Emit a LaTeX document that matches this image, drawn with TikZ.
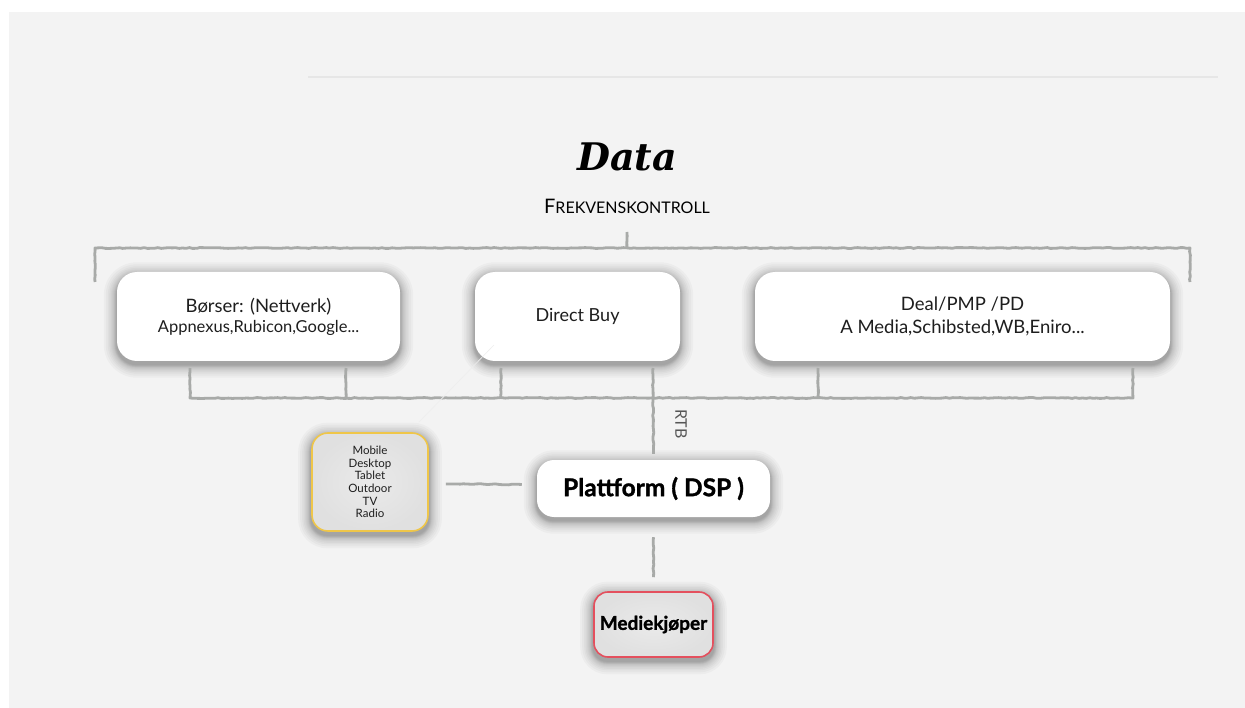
\documentclass[tikz,border=0pt]{standalone}
\usepackage{fontspec}
\setmainfont{Lato}
\newfontfamily\titlefont{DejaVu Serif}
\newfontfamily\heavyfont{Lato}[BoldFeatures={FakeBold=1.3}]
\usetikzlibrary{decorations.pathmorphing,calc}

\definecolor{bgcol}{HTML}{F3F3F3}
\definecolor{rulecol}{HTML}{E6E6E6}
\definecolor{wirecol}{HTML}{A8AAA8}
\definecolor{devedge}{HTML}{EFC649}
\definecolor{buyedge}{HTML}{E4505E}
\definecolor{greyin}{HTML}{EAEAEA}
\definecolor{greyout}{HTML}{E0E0E0}
\definecolor{inkcol}{HTML}{1E1E1E}

\pgfdeclarelayer{canvas}
\pgfdeclarelayer{shade}
\pgfsetlayers{canvas,shade,main}

% soft shadow under a rounded node: stacked translucent outlines,
% packed more densely close to the edge so the fade-out is smooth
\newcommand{\castshadow}[2]{%
  \begin{pgfonlayer}{shade}
  \foreach \d in {0.5,1,1.5,2,2.5,3,4,5,6,7.5,9,11,13}{%
    \pgfmathsetmacro{\rr}{#2+\d}%
    \fill[black, opacity=0.028, rounded corners=\rr pt]
      ($(#1.north west)+(-\d,-\d+3.5)$) rectangle ($(#1.south east)+(\d,\d+3.5)$);
  }
  \end{pgfonlayer}}

\begin{document}
\begin{tikzpicture}[x=1pt,y=-1pt,
  box/.style={fill=white, rounded corners=20pt, inner sep=0pt, align=center,
      text=inkcol},
  greybox/.style={inner color=greyin, outer color=greyout,
      rounded corners=16pt, inner sep=0pt, align=center, text=inkcol,
      line width=1.6pt},
  wire/.style={draw=wirecol, line width=2.8pt, line join=round, decorate,
      decoration={random steps, segment length=3.5pt, amplitude=0.45pt}},
  faint/.style={draw=white!80!wirecol, line width=0.6pt}
]
\useasboundingbox (0,0) rectangle (1245,708);
\begin{pgfonlayer}{canvas}
\fill[white] (0,0) rectangle (1245,708);
\fill[bgcol] (9,12) rectangle (1245,708);
\draw[rulecol, line width=1.6pt] (308,77) -- (1218,77);
\end{pgfonlayer}

% heading
\node (title) at (627,157) {\titlefont\bfseries\itshape\fontsize{38}{38}\selectfont Data};
\node (freq) at (627,206) {\fontsize{20}{20}\selectfont F\fontsize{16}{16}\selectfont REKVENSKONTROLL};

% supply side
\node[box, minimum width=283pt, minimum height=89pt, font=\fontsize{18.5}{23}\selectfont] (bors) at (258.5,316.5)
  {\raisebox{-3pt}{\shortstack{Børser: (Nettverk)\\[2pt]\fontsize{16.5}{20}\selectfont Appnexus,Rubicon,Google...}}};
\node[box, minimum width=205pt, minimum height=89pt, font=\fontsize{18}{22}\selectfont] (direct) at (577.5,316.5)
  {Direct Buy};
\node[box, minimum width=415pt, minimum height=89pt, font=\fontsize{18.5}{23}\selectfont] (deal) at (962.5,316.5)
  {Deal/PMP /PD\\A Media,Schibsted,WB,Eniro...};

% demand side
\node[box, rounded corners=17pt, minimum width=233pt, minimum height=57pt, text=black] (plat) at (653.5,488.5)
  {\heavyfont\bfseries\fontsize{24.5}{26}\selectfont Plattform ( DSP )};
\node[greybox, draw=devedge, minimum width=116pt, minimum height=98pt, font=\fontsize{11.5}{12.7}\selectfont] (dev) at (370,482)
  {Mobile\\Desktop\\Tablet\\Outdoor\\TV\\Radio};
\node[greybox, draw=buyedge, rounded corners=14pt, minimum width=119pt, minimum height=65pt, text=black] (buyer) at (653.5,624.5)
  {\heavyfont\bfseries\fontsize{19}{22}\selectfont Mediekjøper};

\castshadow{bors}{20}
\castshadow{direct}{20}
\castshadow{deal}{20}
\castshadow{plat}{17}
\castshadow{dev}{16}
\castshadow{buyer}{14}

% upper bracket from the data layer
\coordinate (topl) at (95,282);
\coordinate (topr) at (1190,282);
\coordinate (topm) at (627,232);
\draw[wire] (topl) -- (95,248) -- (1190,248) -- (topr);
\draw[wire] (topm) -- (627,248);

% lower bracket collecting the supply sources
\coordinate (bl) at (190,368);
\coordinate (br) at (1133,368);
\coordinate (hub) at (653,398);
\draw[wire] (bl) -- (190,398) -- (1133,398) -- (br);
\foreach \x in {346,501,653,818}
  \draw[wire] (\x,368) -- (\x,398);
\draw[wire] (hub) -- ($(plat.north)+(0,-6)$);
\node[rotate=-90, text=inkcol!75, font=\fontsize{16}{16}\selectfont] (rtb) at (681,424) {RTB};

% demand side connectors
\draw[wire] ($(dev.east)+(17,2)$) -- ($(plat.west)+(-15,-4)$);
\draw[wire] ($(plat.south)+(0,20)$) -- ($(buyer.north)+(0,-14)$);
\draw[faint] ($(direct.south west)+(19,-16)$) -- ($(dev.north east)+(-10,-10)$);
\end{tikzpicture}
\end{document}
